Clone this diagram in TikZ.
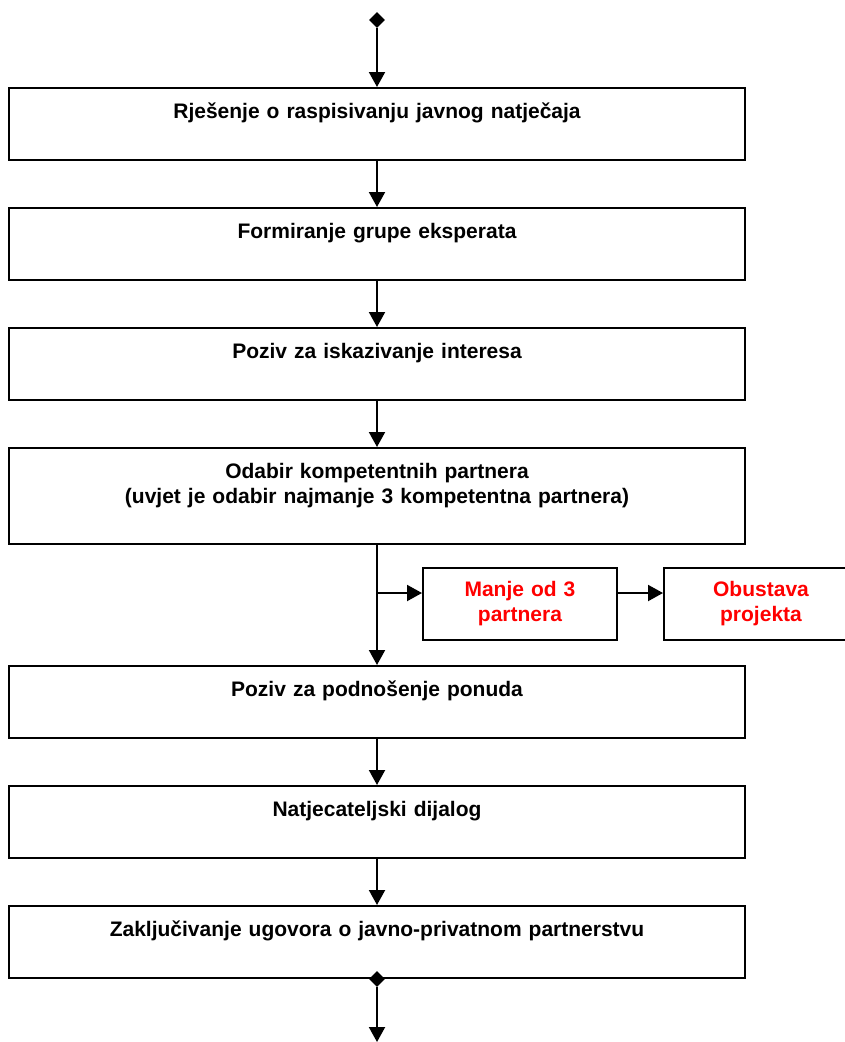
\documentclass[tikz,border=0pt]{standalone}
\usepackage{fontspec}
\setmainfont{Liberation Sans}
\usetikzlibrary{arrows.meta,shapes.geometric}
\usetikzlibrary{positioning}

\begin{document}
\begin{tikzpicture} [x=1pt,y=1pt,node distance=46pt,
  korak/.style={draw,line width=2pt,text width=736pt,inner sep=0pt,align=center,
    text height=30pt,text depth=42pt,font=\fontsize{21}{25}\selectfont\bfseries},
  prekid/.style={draw,line width=2pt,text width=194pt,minimum height=72pt,inner sep=0pt,
    align=center,text=red,font=\fontsize{21}{25}\selectfont\bfseries},
  romb/.style={diamond,fill=black,inner sep=0pt,minimum width=16pt,minimum height=16pt},
  tok/.style={line width=2pt,-{Triangle[length=15pt,width=16pt]}}]
\useasboundingbox (0,0) rectangle (845,-1042);

\node[romb] (pocetak) at (377,-20) {};
\node[korak,anchor=north] (k1) at (377,-87) {Rješenje o raspisivanju javnog natječaja};
\node[korak] (k2) [below=of k1] {Formiranje grupe eksperata};
\node[korak] (k3) [below=of k2] {Poziv za iskazivanje interesa};
\node[korak,text depth=66pt] (k4) [below=of k3] {Odabir kompetentnih partnera\\(uvjet je odabir najmanje 3 kompetentna partnera)};
\node[korak] (k5) [below=120pt of k4] {Poziv za podnošenje ponuda};
\node[korak] (k6) [below=of k5] {Natjecateljski dijalog};
\node[korak] (k7) [below=of k6] {Zaključivanje ugovora o javno-privatnom partnerstvu};
\node[romb] (kraj) at (k7.south) {};
\coordinate (izlaz) at (377,-1042);

% odvojak za slucaj premalo partnera
\coordinate (grana) at (377,-593);
\node[prekid] (manje) at (520,-604) {Manje od 3\\partnera};
\node[prekid] (obustava) [right=45pt of manje] {Obustava\\projekta};

\draw[tok](pocetak)--(k1);
\draw[tok](k1)--(k2);
\draw[tok](k2)--(k3);
\draw[tok](k3)--(k4);
\draw[tok](k4)--(k5);
\draw[tok](grana)--(manje.west |- grana);
\draw[tok](manje.east |- grana)--(obustava.west |- grana);
\draw[tok](k5)--(k6);
\draw[tok](k6)--(k7);
\draw[tok](kraj)--(izlaz);
\end{tikzpicture}
\end{document}
